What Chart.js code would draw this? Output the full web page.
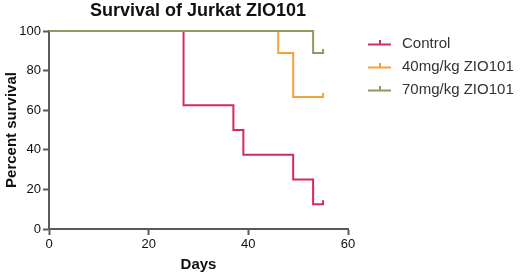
<!DOCTYPE html>
<html>
<head>
<meta charset="utf-8">
<script src="https://cdn.jsdelivr.net/npm/chart.js@4"></script>
<style>
  html, body { margin: 0; padding: 0; background: #fff; }
  #wrap { width: 520px; height: 277px; position: relative; }
</style>
</head>
<body>
<div id="wrap"><canvas id="km"></canvas></div>
<script>
/* ─── Data ──────────────────────────────────────────────────────────────── */
const chartTitle = 'Survival of Jurkat ZIO101';
const groups = ['Control', '40mg/kg ZIO101', '70mg/kg ZIO101'];

const controlDays = [0, 27, 37, 39, 49, 53, 55];
const controlSurv = [100, 62.5, 50, 37.5, 25, 12.5, 12.5];

const dose40Days = [0, 46, 49, 55];
const dose40Surv = [100, 88.9, 66.7, 66.7];

const dose70Days = [0, 53, 55];
const dose70Surv = [100, 88.9, 88.9];

const xTicks = [0, 20, 40, 60];
const yTicks = [0, 20, 40, 60, 80, 100];

const colours = ['#d42a5e', '#f2a23a', '#8f9a62'];
const axisGrey = '#5a5a5a';

/* ─── Helpers ───────────────────────────────────────────────────────────── */
function toPoints(days, surv) {
  return days.map((d, i) => ({ x: d, y: surv[i] }));
}

function dataset(label, days, surv, colour, order) {
  return {
    label,
    data: toPoints(days, surv),
    borderColor: colour,
    backgroundColor: colour,
    borderWidth: 2,
    stepped: 'before',
    fill: false,
    clip: false,
    order,
    pointRadius: 0,
    pointHoverRadius: 0
  };
}

/* ─── Censor ticks at the end of each curve ─────────────────────────────── */
const censorTicks = {
  id: 'censorTicks',
  afterDatasetsDraw(chart) {
    const ctx = chart.ctx;
    ctx.save();
    chart.data.datasets.forEach((ds, i) => {
      const pts = chart.getDatasetMeta(i).data;
      const last = pts[pts.length - 1];
      ctx.strokeStyle = ds.borderColor;
      ctx.lineWidth = 2;
      ctx.beginPath();
      ctx.moveTo(last.x, last.y + 1);
      ctx.lineTo(last.x, last.y - 4);
      ctx.stroke();
    });
    ctx.restore();
  }
};

/* ─── Title + legend drawn in fixed spots ───────────────────────────────── */
const overlay = {
  id: 'overlay',
  afterDraw(chart) {
    const ctx = chart.ctx;
    ctx.save();
    ctx.fillStyle = '#111';
    ctx.font = 'bold 18px "Liberation Sans", Arial, sans-serif';
    ctx.textAlign = 'center';
    ctx.textBaseline = 'middle';
    ctx.fillText(chartTitle, 198, 11);

    const rows = [44, 67, 90];
    ctx.font = '15px "Liberation Sans", Arial, sans-serif';
    ctx.textAlign = 'left';
    chart.data.datasets.forEach((ds, i) => {
      const y = rows[i];
      ctx.strokeStyle = ds.borderColor;
      ctx.lineWidth = 2;
      ctx.beginPath();
      ctx.moveTo(368, y + 0.5); ctx.lineTo(391, y + 0.5);
      ctx.moveTo(380, y + 0.5); ctx.lineTo(380, y - 4);
      ctx.stroke();
      ctx.fillStyle = '#333';
      ctx.fillText(ds.label, 402, y);
    });
    ctx.restore();
  }
};

/* ─── Chart ─────────────────────────────────────────────────────────────── */
const tickFont = { family: '"Liberation Sans", Arial, sans-serif', size: 13 };
const titleFont = { family: '"Liberation Sans", Arial, sans-serif', size: 15, weight: 'bold' };

new Chart(document.getElementById('km'), {
  type: 'line',
  data: {
    datasets: [
      dataset(groups[0], controlDays, controlSurv, colours[0], 3),
      dataset(groups[1], dose40Days, dose40Surv, colours[1], 2),
      dataset(groups[2], dose70Days, dose70Surv, colours[2], 1)
    ]
  },
  options: {
    responsive: true,
    maintainAspectRatio: false,
    animation: false,
    events: [],
    layout: { padding: { left: 0, top: 31, right: 172, bottom: 0 } },
    plugins: { legend: { display: false }, title: { display: false }, tooltip: { enabled: false } },
    scales: {
      x: {
        type: 'linear',
        min: 0, max: 60,
        afterBuildTicks: s => { s.ticks = xTicks.map(v => ({ value: v })); },
        afterFit: s => { s.height = 48; },
        grid: { drawOnChartArea: false, drawTicks: true, tickLength: 6, tickWidth: 2, color: axisGrey },
        border: { color: axisGrey, width: 2 },
        ticks: { font: tickFont, color: '#111', padding: 2, maxRotation: 0 },
        title: { display: true, text: 'Days', font: titleFont, color: '#111', padding: 3 }
      },
      y: {
        min: 0, max: 100,
        afterBuildTicks: s => { s.ticks = yTicks.map(v => ({ value: v })); },
        afterFit: s => { s.width = 49; },
        grid: { drawOnChartArea: false, drawTicks: true, tickLength: 6, tickWidth: 2, color: axisGrey },
        border: { color: axisGrey, width: 2 },
        ticks: { font: tickFont, color: '#111', padding: 2 },
        title: { display: true, text: 'Percent survival', font: titleFont, color: '#111', padding: 3 }
      }
    }
  },
  plugins: [censorTicks, overlay]
});
</script>
</body>
</html>
